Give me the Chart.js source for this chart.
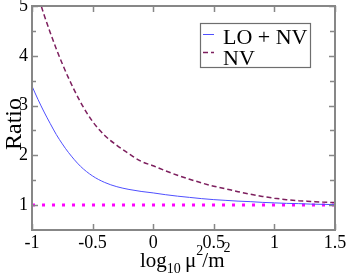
<!DOCTYPE html>
<html>
<head>
<meta charset="utf-8">
<script src="https://cdn.jsdelivr.net/npm/chart.js@4.4.1/dist/chart.umd.min.js"></script>
<style>
html,body{margin:0;padding:0;background:#fff;}
#c{display:block;}
</style>
</head>
<body>
<canvas id="c" width="346" height="277"></canvas>
<script>
// ---- data ----
const xValues = [-1, -0.95, -0.9, -0.85, -0.8, -0.75, -0.7, -0.6, -0.5, -0.4, -0.3, -0.2, -0.1, 0, 0.1, 0.2, 0.3, 0.4, 0.5, 0.6, 0.7, 0.8, 0.9, 1.0, 1.1, 1.2, 1.3, 1.4, 1.5];
const loPlusNV = [3.39, 3.12, 2.87, 2.64, 2.42, 2.23, 2.06, 1.78, 1.585, 1.455, 1.37, 1.315, 1.275, 1.245, 1.21, 1.18, 1.155, 1.13, 1.11, 1.095, 1.08, 1.07, 1.055, 1.045, 1.035, 1.03, 1.02, 1.015, 1.01];
const nvOnly   = [5.6, 5.2, 4.82, 4.47, 4.14, 3.84, 3.56, 3.07, 2.68, 2.4, 2.2, 2.03, 1.88, 1.79, 1.69, 1.6, 1.52, 1.445, 1.38, 1.325, 1.27, 1.22, 1.175, 1.14, 1.11, 1.09, 1.075, 1.06, 1.05];
const refX = [-1, 1.5];
const refY = [1, 1];
const seriesLabels = ['LO + NV', 'NV'];
const yAxisTitle = 'Ratio';
const xTickValues = [-1, -0.5, 0, 0.5, 1, 1.5];
const xTickLabels = ['-1', '-0.5', '0', '0.5', '1', '1.5'];
const yTickValues = [1, 2, 3, 4, 5];
const yTickLabels = ['1', '2', '3', '4', '5'];
const yMinorValues = [1.5, 2.5, 3.5, 4.5];

const SERIF = '"Liberation Serif", "Times New Roman", serif';

const framePlugin = {
  id: 'frame',
  afterDatasetsDraw(chart) {
    const {ctx, chartArea: a, scales} = chart;
    const xs = scales.x, ys = scales.y;
    ctx.save();
    ctx.strokeStyle = '#878787';
    ctx.lineWidth = 2;
    ctx.strokeRect(a.left, a.top, a.right - a.left, a.bottom - a.top);
    ctx.lineWidth = 1.5;
    ctx.beginPath();
    xTickValues.forEach(v => {
      const px = Math.round(xs.getPixelForValue(v)) + 0.5;
      ctx.moveTo(px, a.bottom); ctx.lineTo(px, a.bottom - 6);
      ctx.moveTo(px, a.top); ctx.lineTo(px, a.top + 6);
    });
    yTickValues.forEach(v => {
      const py = Math.round(ys.getPixelForValue(v)) + 0.5;
      ctx.moveTo(a.left, py); ctx.lineTo(a.left + 6, py);
      ctx.moveTo(a.right, py); ctx.lineTo(a.right - 6, py);
    });
    yMinorValues.forEach(v => {
      const py = Math.round(ys.getPixelForValue(v)) + 0.5;
      ctx.moveTo(a.left, py); ctx.lineTo(a.left + 4, py);
      ctx.moveTo(a.right, py); ctx.lineTo(a.right - 5, py);
    });
    ctx.stroke();

    // legend
    const lx = a.right - 135, ly = a.top + 17, lw = 110, lh = 44;
    ctx.fillStyle = '#fff';
    ctx.fillRect(lx, ly, lw, lh);
    ctx.strokeStyle = '#6e6e6e';
    ctx.lineWidth = 1.2;
    ctx.strokeRect(lx + 0.5, ly + 0.5, lw, lh);
    ctx.font = '22px ' + SERIF;
    ctx.fillStyle = '#000';
    ctx.textBaseline = 'alphabetic';
    const rows = [{base: ly + 21, lineY: ly + 11}, {base: ly + 42, lineY: ly + 29}];
    chart.data.datasets.slice(0, 2).forEach((ds, i) => {
      const r = rows[i];
      ctx.save();
      ctx.strokeStyle = ds.borderColor;
      ctx.lineWidth = ds.borderWidth;
      ctx.setLineDash(ds.borderDash || []);
      ctx.beginPath();
      ctx.moveTo(lx + 3, r.lineY + 0.5);
      ctx.lineTo(lx + 14, r.lineY + 0.5);
      ctx.stroke();
      ctx.restore();
      ctx.fillText(ds.label, lx + 23, r.base);
    });

    // y-axis title
    ctx.save();
    ctx.translate(15, 124);
    ctx.rotate(-Math.PI / 2);
    ctx.font = '24px ' + SERIF;
    ctx.textAlign = 'center';
    ctx.textBaseline = 'middle';
    ctx.fillText(yAxisTitle, 0, 0);
    ctx.restore();

    // x-axis title with sub/superscripts
    const big = '21px ' + SERIF, small = '14px ' + SERIF;
    let x = 140;
    const base = 267;
    ctx.font = big; ctx.fillText('log', x, base); x += ctx.measureText('log').width;
    ctx.font = small; ctx.fillText('10', x, base + 6); x += ctx.measureText('10').width;
    ctx.font = big; x += ctx.measureText(' ').width - 1;
    ctx.fillText('\u03bc', x, base); x += ctx.measureText('\u03bc').width;
    ctx.font = small; ctx.fillText('2', x, base - 12); x += ctx.measureText('2').width - 1;
    ctx.font = big; ctx.fillText('/m', x, base); x += ctx.measureText('/m').width - 1;
    ctx.font = small; ctx.fillText('2', x, base - 15);
    ctx.restore();
  }
};

new Chart(document.getElementById('c'), {
  type: 'line',
  data: {
    datasets: [
      {
        label: seriesLabels[0],
        data: xValues.map((x, i) => ({x, y: loPlusNV[i]})),
        borderColor: '#4f4fff',
        borderWidth: 1,
        pointRadius: 0,
        cubicInterpolationMode: 'monotone',
        clip: 0
      },
      {
        label: seriesLabels[1],
        data: xValues.map((x, i) => ({x, y: nvOnly[i]})),
        borderColor: '#7d1f5e',
        borderWidth: 1.5,
        borderDash: [5, 3],
        pointRadius: 0,
        cubicInterpolationMode: 'monotone',
        clip: 0
      },
      {
        label: 'ref',
        data: refX.map((x, i) => ({x, y: refY[i]})),
        borderColor: '#ff00ff',
        borderWidth: 3,
        borderDash: [3, 7],
        borderCapStyle: 'butt',
        pointRadius: 0,
        clip: 0
      }
    ]
  },
  options: {
    responsive: false,
    animation: false,
    devicePixelRatio: 1,
    layout: {padding: {top: 6, right: 11, left: 0, bottom: 0}},
    plugins: {legend: {display: false}, tooltip: {enabled: false}},
    scales: {
      x: {
        type: 'linear', min: -1, max: 1.5,
        grid: {display: false, drawTicks: false}, border: {display: false},
        afterBuildTicks: s => { s.ticks = xTickValues.map(v => ({value: v})); },
        afterFit: s => { s.height = 47; s.paddingLeft = 0; s.paddingRight = 0; },
        ticks: {
          autoSkip: false, maxRotation: 0, padding: 2, color: '#000',
          font: {family: SERIF, size: 18},
          callback: (v, i) => xTickLabels[i]
        }
      },
      y: {
        type: 'linear', min: 0.5, max: 5,
        grid: {display: false, drawTicks: false}, border: {display: false},
        afterBuildTicks: s => { s.ticks = yTickValues.map(v => ({value: v})); },
        afterFit: s => { s.width = 32; s.paddingTop = 0; s.paddingBottom = 0; },
        ticks: {
          autoSkip: false, padding: 4, color: '#000',
          font: {family: SERIF, size: 18},
          callback: (v, i) => yTickLabels[i]
        }
      }
    }
  },
  plugins: [framePlugin]
});
</script>
</body>
</html>
